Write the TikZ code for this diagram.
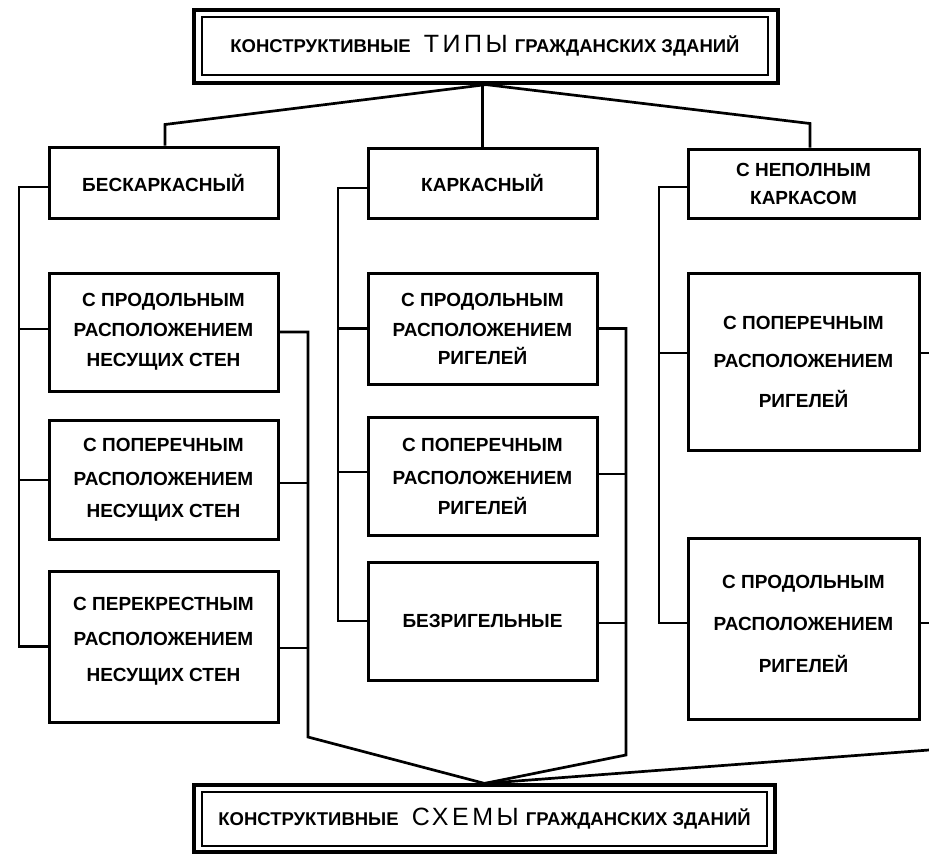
\documentclass[tikz,border=0pt]{standalone}
\usepackage{fontspec}
\setmainfont{Liberation Sans}
\newfontfamily\thinfont[LetterSpace=14]{Liberation Sans}
\usetikzlibrary{calc}
\newcommand{\blockfont}{\bfseries\fontsize{19}{30}\selectfont}
\newcommand{\titlefont}{\bfseries\fontsize{18.5}{20}\selectfont}
\newcommand{\thinword}[1]{\hspace{8pt}{\thinfont\mdseries\fontsize{25}{25}\selectfont #1}\hspace{2pt}}
\tikzset{
  block/.style={
    draw,
    line width=3pt,
    inner sep=0pt,
    align=center,
    minimum width=229pt,
    font=\blockfont
  },
  frame outer/.style={
    draw,
    line width=3.2pt,
    inner sep=0pt
  },
  frame inner/.style={
    draw,
    line width=2.4pt,
    inner sep=0pt,
    font=\titlefont
  },
  link/.style={
    line width=2.7pt,
    line join=miter
  }
}
\begin{document}
\begin{tikzpicture}[x=1pt, y=-1pt]

  \useasboundingbox (0,0) rectangle (929,854);
  \fill[white] (0,0) rectangle (929,854);

  %% ---- заголовок сверху ----
  \node[frame outer, minimum width=584pt, minimum height=73pt] (T) at (486,46.5) {};
  \node[frame inner, minimum width=566pt, minimum height=58pt] (Tin) at (485,46)
      {КОНСТРУКТИВНЫЕ \thinword{ТИПЫ} ГРАЖДАНСКИХ ЗДАНИЙ};

  %% ---- заголовок снизу ----
  \node[frame outer, minimum width=581pt, minimum height=67pt] (S) at (484.5,818.5) {};
  \node[frame inner, minimum width=565pt, minimum height=54pt] (Sin) at (484.5,819)
      {КОНСТРУКТИВНЫЕ \thinword{СХЕМЫ} ГРАЖДАНСКИХ ЗДАНИЙ};

  %% ---- бескаркасный ----
  \node[block, minimum height=71pt]  (B0) at (163.5,182.5) {БЕСКАРКАСНЫЙ};
  \node[block, minimum height=118pt] (B1) at (163.5,332)
      {С ПРОДОЛЬНЫМ\\ РАСПОЛОЖЕНИЕМ\\ НЕСУЩИХ СТЕН};
  \node[block, minimum height=119pt] (B2) at (163.5,480)
      {С ПОПЕРЕЧНЫМ\\[4pt] РАСПОЛОЖЕНИЕМ\\[2pt] НЕСУЩИХ СТЕН};
  \node[block, minimum height=151pt] (B3) at (163.5,646.5)
      {С ПЕРЕКРЕСТНЫМ\\[5pt] РАСПОЛОЖЕНИЕМ\\[6pt] НЕСУЩИХ СТЕН\\[-15pt]};

  %% ---- каркасный ----
  \node[block, minimum height=70pt]  (K0) at (482.5,183) {КАРКАСНЫЙ};
  \node[block, minimum height=111pt] (K1) at (482.5,328.5)
      {С ПРОДОЛЬНЫМ\\ РАСПОЛОЖЕНИЕМ\\[-2pt] РИГЕЛЕЙ};
  \node[block, minimum height=118pt] (K2) at (482.5,476)
      {С ПОПЕРЕЧНЫМ\\[3pt] РАСПОЛОЖЕНИЕМ\\ РИГЕЛЕЙ};
  \node[block, minimum height=118pt] (K3) at (482.5,621) {БЕЗРИГЕЛЬНЫЕ};

  %% ---- с неполным каркасом ----
  \node[block, minimum width=231pt, minimum height=69pt]  (N0) at (803.5,183.5)
      {С НЕПОЛНЫМ\\[-2pt] КАРКАСОМ};
  \node[block, minimum width=231pt, minimum height=177pt] (N1) at (803.5,361.5)
      {С ПОПЕРЕЧНЫМ\\[8pt] РАСПОЛОЖЕНИЕМ\\[10pt] РИГЕЛЕЙ};
  \node[block, minimum width=231pt, minimum height=181pt] (N2) at (803.5,628.5)
      {С ПРОДОЛЬНЫМ\\[12pt] РАСПОЛОЖЕНИЕМ\\[12pt] РИГЕЛЕЙ\\[-20pt]};

  %% ---- связи от верхнего заголовка ----
  \draw[link] (T.south) -- ($(B0.north)+(1.5,-21)$) -- ($(B0.north)+(1.5,0)$);
  \draw[link] (K0.north) -- (K0.north |- T.south);
  \draw[link] (T.south) -- ($(N0.north)+(6.5,-24)$) -- ($(N0.north)+(6.5,0)$);

  %% ---- шины бескаркасного ----
  \coordinate (bl) at (19,0);
  \coordinate (br) at (308,737);
  \draw[link] ([yshift=-4.5]B0.west) -- ([yshift=-4.5]B0.west -| bl) -- (B3.west -| bl) -- (B3.west);
  \draw[link] ([yshift=3]B1.west) -- ([yshift=3]B1.west -| bl);
  \draw[link] (B2.west) -- (B2.west -| bl);
  \draw[link] (B1.east) -| (br) -- (S.north);
  \draw[link] ([yshift=-3]B2.east) -- ([yshift=-3]B2.east -| br);
  \draw[link] ([yshift=-1.5]B3.east) -- ([yshift=-1.5]B3.east -| br);

  %% ---- шины каркасного ----
  \coordinate (kl) at (338,0);
  \coordinate (kr) at (626,755);
  \draw[link] ([yshift=-5]K0.west) -- ([yshift=-5]K0.west -| kl) -- (K3.west -| kl) -- (K3.west);
  \draw[link] (K1.west) -- (K1.west -| kl);
  \draw[link] ([yshift=4]K2.west) -- ([yshift=4]K2.west -| kl);
  \draw[link] (K1.east) -| (kr) -- (S.north);
  \draw[link] ([yshift=2]K2.east) -- ([yshift=2]K2.east -| kr);
  \draw[link] ([yshift=-2]K3.east) -- ([yshift=-2]K3.east -| kr);

  %% ---- шины неполного каркаса ----
  \coordinate (nl) at (659,0);
  \coordinate (nr) at (929,750);
  \draw[link] ([yshift=-3.5]N0.west) -- ([yshift=-3.5]N0.west -| nl)
      -- ([yshift=5.5]N2.west -| nl) -- ([yshift=5.5]N2.west);
  \draw[link] ([yshift=8.5]N1.west) -- ([yshift=8.5]N1.west -| nl);
  \draw[link] ([yshift=8.5]N1.east) -- ([yshift=8.5]N1.east -| nr);
  \draw[link] ([yshift=5.5]N2.east) -- ([yshift=5.5]N2.east -| nr);
  \draw[link] (nr) -- (S.north);

\end{tikzpicture}
\end{document}
